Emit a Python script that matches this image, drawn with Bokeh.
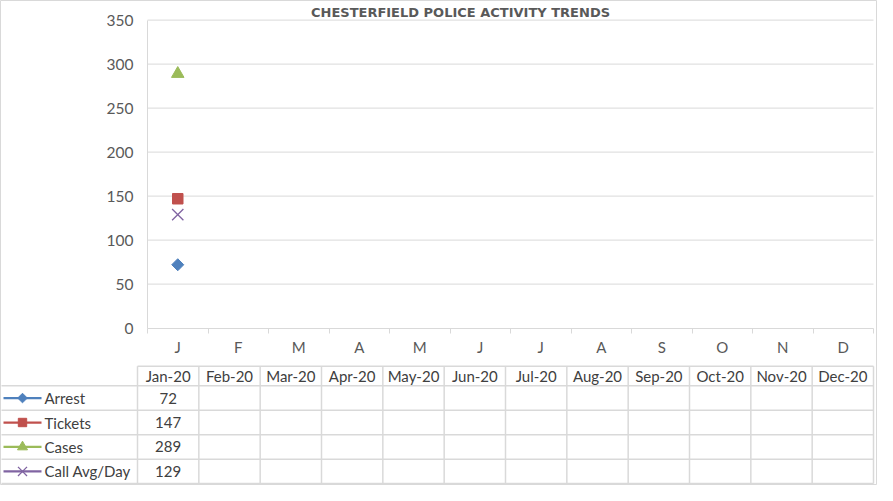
import numpy as np
from bokeh.plotting import figure
from bokeh.models import Range1d, LinearAxis, FixedTicker
from bokeh.core.properties import value
from bokeh.embed import file_html
from bokeh.resources import INLINE

# ---------------- data ----------------
TITLE = "CHESTERFIELD POLICE ACTIVITY TRENDS"
MONTH_LETTERS = ["J", "F", "M", "A", "M", "J", "J", "A", "S", "O", "N", "D"]
MONTH_LABELS = ["Jan-20", "Feb-20", "Mar-20", "Apr-20", "May-20", "Jun-20",
                "Jul-20", "Aug-20", "Sep-20", "Oct-20", "Nov-20", "Dec-20"]
SERIES = ["Arrest", "Tickets", "Cases", "Call Avg/Day"]
ARREST = [72, None, None, None, None, None, None, None, None, None, None, None]
TICKETS = [147, None, None, None, None, None, None, None, None, None, None, None]
CASES = [289, None, None, None, None, None, None, None, None, None, None, None]
CALL_AVG = [129, None, None, None, None, None, None, None, None, None, None, None]
Y_TICKS = [0, 50, 100, 150, 200, 250, 300, 350]

# ---------------- styles / layout ----------------
FONT = "Lato"
TITLE_FONT = "DejaVu Sans"
W, H = 877, 485
PLOT_L, PLOT_R = 147, 873
PLOT_TOP, PLOT_BOTTOM = 19.6, 327.6
TABLE_L, TABLE_R = 137, 873
ROW_EDGES = [365.8, 385.3, 409.8, 434.2, 458.7, 483.1]
GRID = "#d9d9d9"
TXT = "#404040"
AX_TXT = "#595959"
STYLES = [
    dict(color="#4F81BD", marker="square", size=8.5, angle=np.pi / 4, lw=1.0),
    dict(color="#C0504D", marker="square", size=10.5, angle=0.0, lw=1.0),
    dict(color="#9BBB59", marker="triangle", size=12.5, angle=0.0, lw=1.0),
    dict(color="#8064A2", marker="x", size=16, angle=0.0, lw=1.3),
]
VALUES = [ARREST, TICKETS, CASES, CALL_AVG]

n = len(MONTH_LETTERS)
y_max = Y_TICKS[-1]
ppu_x = (PLOT_R - PLOT_L) / n
ppu_y = (PLOT_BOTTOM - PLOT_TOP) / y_max

p = figure(width=W, height=H, x_range=Range1d(0, W), y_range=Range1d(H, 0),
           x_axis_type=None, y_axis_type=None, output_backend="svg",
           toolbar_location=None, min_border=0,
           outline_line_color=GRID, outline_line_width=1,
           background_fill_color="white", border_fill_color="white")
p.title.visible = False
p.extra_x_ranges = {"cx": Range1d(-PLOT_L / ppu_x, n + (W - PLOT_R) / ppu_x)}
p.extra_y_ranges = {"cy": Range1d(-(H - PLOT_BOTTOM) / ppu_y, y_max + PLOT_TOP / ppu_y)}

# gridlines (chart area only)
p.segment(x0=0, x1=n, y0=Y_TICKS[1:], y1=Y_TICKS[1:], x_range_name="cx",
          y_range_name="cy", line_color=GRID, line_width=1)

# y axis
yax = LinearAxis(x_range_name="cx", y_range_name="cy", fixed_location=0,
                 bounds=(0, y_max), ticker=FixedTicker(ticks=Y_TICKS))
yax.major_tick_out = 0
yax.major_tick_in = 0
yax.minor_tick_out = 0
yax.minor_tick_in = 0
yax.axis_line_color = GRID
yax.major_label_text_color = AX_TXT
yax.major_label_text_font = FONT
yax.major_label_text_font_size = "15.5px"
yax.major_label_standoff = 14
p.add_layout(yax, "left")

# x axis (category letters, ticks between categories)
centers = [i + 0.5 for i in range(n)]
xax = LinearAxis(x_range_name="cx", y_range_name="cy", fixed_location=0,
                 bounds=(0, n),
                 ticker=FixedTicker(ticks=centers, minor_ticks=list(range(n + 1))))
xax.major_label_overrides = {c: lab for c, lab in zip(centers, MONTH_LETTERS)}
xax.major_tick_out = 0
xax.major_tick_in = 0
xax.minor_tick_out = 5
xax.minor_tick_in = 0
xax.minor_tick_line_color = GRID
xax.axis_line_color = GRID
xax.major_label_text_color = AX_TXT
xax.major_label_text_font = FONT
xax.major_label_text_font_size = "15px"
xax.major_label_standoff = 5
p.add_layout(xax, "below")

# series
for vals, st in zip(VALUES, STYLES):
    ys = np.array([np.nan if v is None else v for v in vals], dtype=float)
    p.line(centers, ys, line_color=st["color"], line_width=2.25,
           x_range_name="cx", y_range_name="cy")
    p.scatter(centers, ys, marker=st["marker"], size=st["size"], angle=st["angle"],
              fill_color=st["color"], line_color=st["color"], line_width=st["lw"],
              x_range_name="cx", y_range_name="cy")

# title
p.text(x=[(PLOT_L + PLOT_R) / 2 - 50], y=[PLOT_TOP - 8], text=[TITLE],
       text_font=value(TITLE_FONT), text_font_size="13px", text_font_style="bold",
       text_color=AX_TXT, text_align="center", text_baseline="middle")

# ---------------- data table ----------------
col_w = (TABLE_R - TABLE_L) / n
col_edges = [TABLE_L + k * col_w for k in range(n + 1)]
col_centers = [TABLE_L + (k + 0.5) * col_w for k in range(n)]

p.segment(x0=TABLE_L, x1=TABLE_R, y0=ROW_EDGES[0], y1=ROW_EDGES[0],
          line_color=GRID, line_width=1.5)
p.segment(x0=1, x1=TABLE_R, y0=ROW_EDGES[1:], y1=ROW_EDGES[1:],
          line_color=GRID, line_width=1.5)
p.segment(x0=col_edges, x1=col_edges, y0=ROW_EDGES[0], y1=ROW_EDGES[-1],
          line_color=GRID, line_width=1.5)

hdr_y = (ROW_EDGES[0] + ROW_EDGES[1]) / 2
p.text(x=col_centers, y=[hdr_y] * n, text=MONTH_LABELS, text_font=value(FONT),
       text_font_size="15px", text_color=TXT, text_align="center",
       text_baseline="middle")

for r, (name, vals, st) in enumerate(zip(SERIES, VALUES, STYLES)):
    yc = (ROW_EDGES[r + 1] + ROW_EDGES[r + 2]) / 2
    p.line([3, 41], [yc, yc], line_color=st["color"], line_width=2.25)
    p.scatter([22], [yc], marker=st["marker"], size=st["size"] * 0.8,
              angle=st["angle"], fill_color=st["color"], line_color=st["color"],
              line_width=st["lw"])
    p.text(x=[44], y=[yc], text=[name], text_font=value(FONT),
           text_font_size="15px", text_color=TXT, text_align="left",
           text_baseline="middle")
    xs = [c for c, v in zip(col_centers, vals) if v is not None]
    ts = [str(v) for v in vals if v is not None]
    p.text(x=xs, y=[yc] * len(xs), text=ts, text_font=value(FONT),
           text_font_size="15px", text_color=TXT, text_align="center",
           text_baseline="middle")

open("out.html", "w").write(file_html(p, INLINE))
